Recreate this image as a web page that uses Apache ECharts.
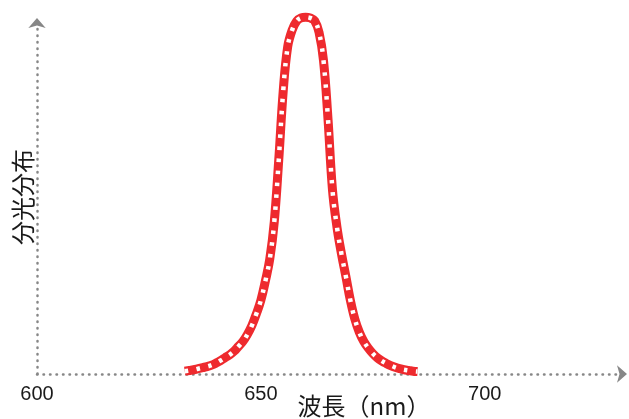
<!DOCTYPE html>
<html>
<head>
<meta charset="utf-8">
<script src="https://cdn.jsdelivr.net/npm/echarts@6/dist/echarts.min.js"></script>
<style>
  html, body { margin: 0; padding: 0; background: #fff; }
  #chart { width: 629px; height: 419px; }
</style>
</head>
<body>
<div id="chart"></div>
<script>
// 波長 (nm)
const wavelengths = [633,634,635,636,637,638,639,640,641,642,643,644,645,646,647,648,649,650,
  651,652,653,654,655,656,657,658,659,660,661,662,663,664,665,666,667,668,669,670,
  671,672,673,674,675,676,677,678,679,680,681,682,683,684,685];
// 分光分布 (相対値)
const spectrum = [0.008,0.010,0.012,0.015,0.018,0.021,0.025,0.031,0.038,0.046,0.054,0.064,0.078,0.092,0.112,0.137,0.170,0.208,
  0.262,0.325,0.430,0.605,0.800,0.925,0.972,0.997,1.006,1.008,1.006,0.998,0.965,0.885,0.720,0.520,0.415,0.340,0.275,0.208,
  0.155,0.118,0.092,0.073,0.058,0.046,0.037,0.030,0.024,0.019,0.015,0.012,0.010,0.008,0.007];
const xTickLabels = ['600', '650', '700'];

const points = wavelengths.map((w, i) => [w, spectrum[i]]);

const axisGray = '#878787';
const myChart = echarts.init(document.getElementById('chart'));
myChart.setOption({
  animation: false,
  grid: { left: 37, right: 10, top: 20, bottom: 45, containLabel: false, outerBoundsMode: 'none' },
  xAxis: {
    type: 'value',
    min: 600,
    max: 730,
    interval: 50,
    splitLine: { show: false },
    axisTick: { show: false },
    axisLine: {
      lineStyle: { color: axisGray, width: 2.5, type: [0.5, 6], cap: 'round' },
      symbol: ['none', 'arrow'],
      symbolSize: [13, 10],
      symbolOffset: [0, 8]
    },
    axisLabel: {
      color: '#1a1a1a',
      fontSize: 20,
      fontFamily: 'Liberation Sans',
      margin: 10,
      showMaxLabel: false,
      formatter: v => xTickLabels.includes(String(v)) ? String(v) : ''
    },
    name: '波長（nm）',
    nameLocation: 'middle',
    nameGap: 20,
    nameMoveOverlap: false,
    nameTextStyle: {
      color: '#1a1a1a',
      fontSize: 24,
      fontFamily: 'Noto Sans CJK JP',
      padding: [0, 0, 0, 72]
    }
  },
  yAxis: {
    type: 'value',
    min: 0,
    max: 1,
    splitLine: { show: false },
    axisTick: { show: false },
    axisLabel: { show: false },
    axisLine: {
      lineStyle: { color: axisGray, width: 2.5, type: [0.5, 6], cap: 'round' },
      symbol: ['none', 'arrow'],
      symbolSize: [13, 10],
      symbolOffset: [0, 2]
    },
    name: '分光分布',
    nameLocation: 'middle',
    nameGap: 2,
    nameMoveOverlap: false,
    nameTextStyle: {
      color: '#1a1a1a',
      fontSize: 24,
      fontFamily: 'Noto Sans CJK JP'
    }
  },
  series: [
    {
      type: 'line',
      data: points,
      smooth: 0.4,
      showSymbol: false,
      clip: false,
      lineStyle: { color: '#ee2a2e', width: 9, cap: 'butt' }
    },
    {
      type: 'line',
      data: points,
      smooth: 0.4,
      showSymbol: false,
      clip: false,
      lineStyle: { color: '#ffffff', width: 4.5, type: [3.5, 8.5], cap: 'butt' }
    }
  ]
});
</script>
</body>
</html>
